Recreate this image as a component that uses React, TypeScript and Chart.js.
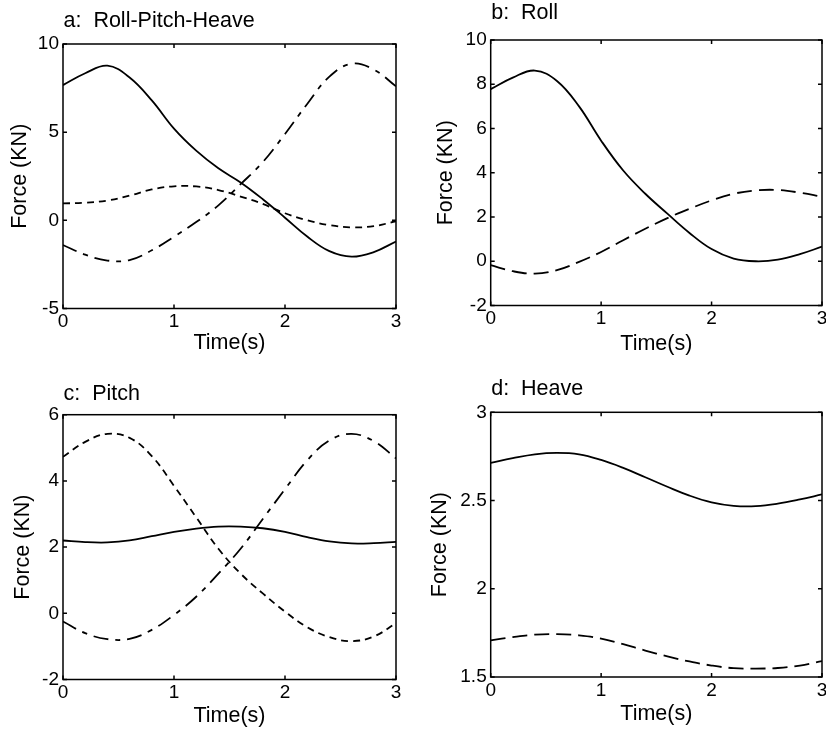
import { useEffect, useRef } from 'react';
import { Chart, registerables } from 'chart.js';

Chart.register(...registerables);

// Sample times (s) shared by every curve
const TIME = [0, 0.2, 0.4, 0.6, 0.8, 1.0, 1.2, 1.4, 1.6, 1.8, 2.0, 2.2, 2.4, 2.6, 2.8, 3.0];
const TIME_TICKS = [0, 1, 2, 3];

// a: Roll-Pitch-Heave (KN)
const rphSolid = [7.67, 8.34, 8.77, 8.1, 6.8, 5.2, 3.95, 2.95, 2.15, 1.2, 0.15, -0.92, -1.75, -2.06, -1.8, -1.2];
const rphDashed = [0.96, 1.0, 1.12, 1.4, 1.75, 1.93, 1.92, 1.72, 1.35, 0.93, 0.4, 0.0, -0.27, -0.4, -0.33, -0.05];
const rphDashDot = [-1.4, -1.95, -2.28, -2.25, -1.7, -0.93, -0.1, 0.85, 2.05, 3.3, 4.9, 6.6, 8.15, 8.88, 8.55, 7.6];
const rphTicks = [-5, 0, 5, 10];

// b: Roll (KN)
const rollSolid = [7.78, 8.3, 8.62, 8.15, 7.0, 5.45, 4.1, 3.05, 2.15, 1.28, 0.55, 0.12, 0.0, 0.07, 0.32, 0.66];
const rollDashed = [-0.18, -0.45, -0.56, -0.4, -0.03, 0.42, 0.95, 1.47, 1.95, 2.37, 2.75, 3.05, 3.2, 3.22, 3.1, 2.92];
const rollTicks = [-2, 0, 2, 4, 6, 8, 10];

// c: Pitch (KN)
const pitchSolid = [2.2, 2.15, 2.14, 2.2, 2.33, 2.46, 2.56, 2.62, 2.62, 2.57, 2.46, 2.3, 2.17, 2.11, 2.12, 2.16];
const pitchDashed = [4.73, 5.18, 5.42, 5.3, 4.75, 3.85, 2.9, 1.95, 1.2, 0.6, 0.05, -0.42, -0.72, -0.84, -0.7, -0.3];
const pitchDashDot = [-0.25, -0.6, -0.78, -0.77, -0.5, -0.05, 0.5, 1.2, 1.95, 2.85, 3.75, 4.62, 5.22, 5.42, 5.2, 4.68];
const pitchTicks = [-2, 0, 2, 4, 6];

// d: Heave (KN)
const heaveSolid = [2.713, 2.74, 2.762, 2.77, 2.762, 2.73, 2.685, 2.632, 2.578, 2.528, 2.49, 2.47, 2.468, 2.482, 2.506, 2.535];
const heaveDashed = [1.707, 1.726, 1.74, 1.743, 1.736, 1.718, 1.686, 1.65, 1.617, 1.588, 1.565, 1.55, 1.548, 1.551, 1.565, 1.59];
const heaveTicks = [1.5, 2, 2.5, 3];

const FONT = '"Liberation Sans", Arial, Helvetica, sans-serif';

const SOLID: number[] = [];
const SHORT_DASH = [7, 5];
const LONG_DASH = [15, 7];
const DASH_DOT = [15, 7, 5, 7];

type Series = { values: number[]; dash: number[] };
type Panel = {
  title: string;
  left: number;
  top: number;
  width: number;
  height: number;
  area: { l: number; t: number; r: number; b: number };
  yTicks: number[];
  series: Series[];
  yTitlePad: number;
  xTitlePad: number;
  titleBaseline: number;
};

const panels: Panel[] = [
  {
    title: 'a:  Roll-Pitch-Heave',
    left: 0, top: 0, width: 413, height: 368,
    area: { l: 63, t: 44, r: 396, b: 308.5 },
    yTicks: rphTicks,
    series: [
      { values: rphSolid, dash: SOLID },
      { values: rphDashed, dash: SHORT_DASH },
      { values: rphDashDot, dash: DASH_DOT },
    ],
    yTitlePad: 9, xTitlePad: 14.5, titleBaseline: 26.5,
  },
  {
    title: 'b:  Roll',
    left: 413, top: 0, width: 413, height: 368,
    area: { l: 77.7, t: 40, r: 409, b: 305.5 },
    yTicks: rollTicks,
    series: [
      { values: rollSolid, dash: SOLID },
      { values: rollDashed, dash: LONG_DASH },
    ],
    yTitlePad: 22.5, xTitlePad: 13.5, titleBaseline: 19.3,
  },
  {
    title: 'c:  Pitch',
    left: 0, top: 368, width: 413, height: 368,
    area: { l: 63, t: 46.7, r: 396, b: 311.5 },
    yTicks: pitchTicks,
    series: [
      { values: pitchSolid, dash: SOLID },
      { values: pitchDashed, dash: SHORT_DASH },
      { values: pitchDashDot, dash: DASH_DOT },
    ],
    yTitlePad: 12.5, xTitlePad: 9.5, titleBaseline: 32,
  },
  {
    title: 'd:  Heave',
    left: 413, top: 368, width: 413, height: 368,
    area: { l: 77.7, t: 44.3, r: 409, b: 309 },
    yTicks: heaveTicks,
    series: [
      { values: heaveSolid, dash: SOLID },
      { values: heaveDashed, dash: LONG_DASH },
    ],
    yTitlePad: 16.5, xTitlePad: 11.5, titleBaseline: 27,
  },
];

// Box around the plot area with inward tick marks on all four sides
const frameTicks = {
  id: 'frameTicks',
  afterDatasetsDraw(chart: any) {
    const { ctx, chartArea, scales } = chart;
    const { left, top, right, bottom } = chartArea;
    const len = 4;
    ctx.save();
    ctx.strokeStyle = '#000';
    ctx.lineWidth = 1.5;
    ctx.setLineDash([]);
    ctx.strokeRect(left, top, right - left, bottom - top);
    ctx.beginPath();
    scales.x.ticks.forEach((t: any) => {
      const px = scales.x.getPixelForValue(t.value);
      ctx.moveTo(px, bottom);
      ctx.lineTo(px, bottom - len);
      ctx.moveTo(px, top);
      ctx.lineTo(px, top + len);
    });
    scales.y.ticks.forEach((t: any) => {
      const py = scales.y.getPixelForValue(t.value);
      ctx.moveTo(left, py);
      ctx.lineTo(left + len, py);
      ctx.moveTo(right, py);
      ctx.lineTo(right - len, py);
    });
    ctx.stroke();
    ctx.restore();
  },
};

// Panel caption written above the plot box, flush with its left edge
const panelTitle = {
  id: 'panelTitle',
  afterDraw(chart: any, _args: any, opts: any) {
    const { ctx, chartArea } = chart;
    ctx.save();
    ctx.font = `21.5px ${FONT}`;
    ctx.fillStyle = '#000';
    ctx.textAlign = 'left';
    ctx.textBaseline = 'alphabetic';
    ctx.fillText(opts.text, chartArea.left + 0.5, opts.baseline);
    ctx.restore();
  },
};

function ForcePanel({ p }: { p: Panel }) {
  const ref = useRef<HTMLCanvasElement | null>(null);

  useEffect(() => {
    if (!ref.current) return;
    const tickFont = { family: FONT, size: 19, lineHeight: 1 };
    const labelFont = { family: FONT, size: 21.5, lineHeight: 1 };
    const chart = new Chart(ref.current, {
      type: 'line',
      data: {
        datasets: p.series.map((s) => ({
          data: TIME.map((t, i) => ({ x: t, y: s.values[i] })),
          borderColor: '#000',
          borderWidth: 1.8,
          borderDash: s.dash,
          pointRadius: 0,
          fill: false,
          tension: 0.4,
        })),
      },
      options: {
        responsive: false,
        animation: false,
        events: [],
        layout: {
          padding: { left: 0, top: p.area.t, right: p.width - p.area.r, bottom: 0 },
        },
        plugins: {
          legend: { display: false },
          tooltip: { enabled: false },
          panelTitle: { text: p.title, baseline: p.titleBaseline },
        } as any,
        scales: {
          x: {
            type: 'linear',
            min: TIME_TICKS[0],
            max: TIME_TICKS[TIME_TICKS.length - 1],
            afterBuildTicks: (s: any) => {
              s.ticks = TIME_TICKS.map((v) => ({ value: v }));
            },
            afterFit: (s: any) => {
              s.height = p.height - p.area.b;
              s.paddingLeft = 0;
              s.paddingRight = 0;
            },
            grid: { display: false, drawTicks: false },
            border: { display: false },
            ticks: {
              padding: 4,
              color: '#000',
              font: tickFont,
              maxRotation: 0,
              autoSkip: false,
              callback: (v: any) => String(v),
            },
            title: {
              display: true,
              text: 'Time(s)',
              color: '#000',
              font: labelFont,
              padding: { top: 0, bottom: p.xTitlePad },
            },
          },
          y: {
            type: 'linear',
            min: p.yTicks[0],
            max: p.yTicks[p.yTicks.length - 1],
            afterBuildTicks: (s: any) => {
              s.ticks = p.yTicks.map((v) => ({ value: v }));
            },
            afterFit: (s: any) => {
              s.width = p.area.l;
              s.paddingTop = 0;
              s.paddingBottom = 0;
            },
            grid: { display: false, drawTicks: false },
            border: { display: false },
            ticks: {
              padding: 4,
              color: '#000',
              font: tickFont,
              autoSkip: false,
              callback: (v: any) => String(v),
            },
            title: {
              display: true,
              text: 'Force (KN)',
              color: '#000',
              font: labelFont,
              padding: { top: p.yTitlePad, bottom: 0 },
            },
          },
        },
      } as any,
      plugins: [frameTicks, panelTitle],
    });
    return () => chart.destroy();
  }, [p]);

  return (
    <canvas
      ref={ref}
      width={p.width}
      height={p.height}
      style={{ position: 'absolute', left: p.left, top: p.top, width: p.width, height: p.height }}
    />
  );
}

export default function App() {
  return (
    <div
      style={{
        position: 'absolute',
        left: 0,
        top: 0,
        width: 826,
        height: 736,
        background: '#fff',
        overflow: 'hidden',
      }}
    >
      {panels.map((p) => (
        <ForcePanel key={p.title} p={p} />
      ))}
    </div>
  );
}
